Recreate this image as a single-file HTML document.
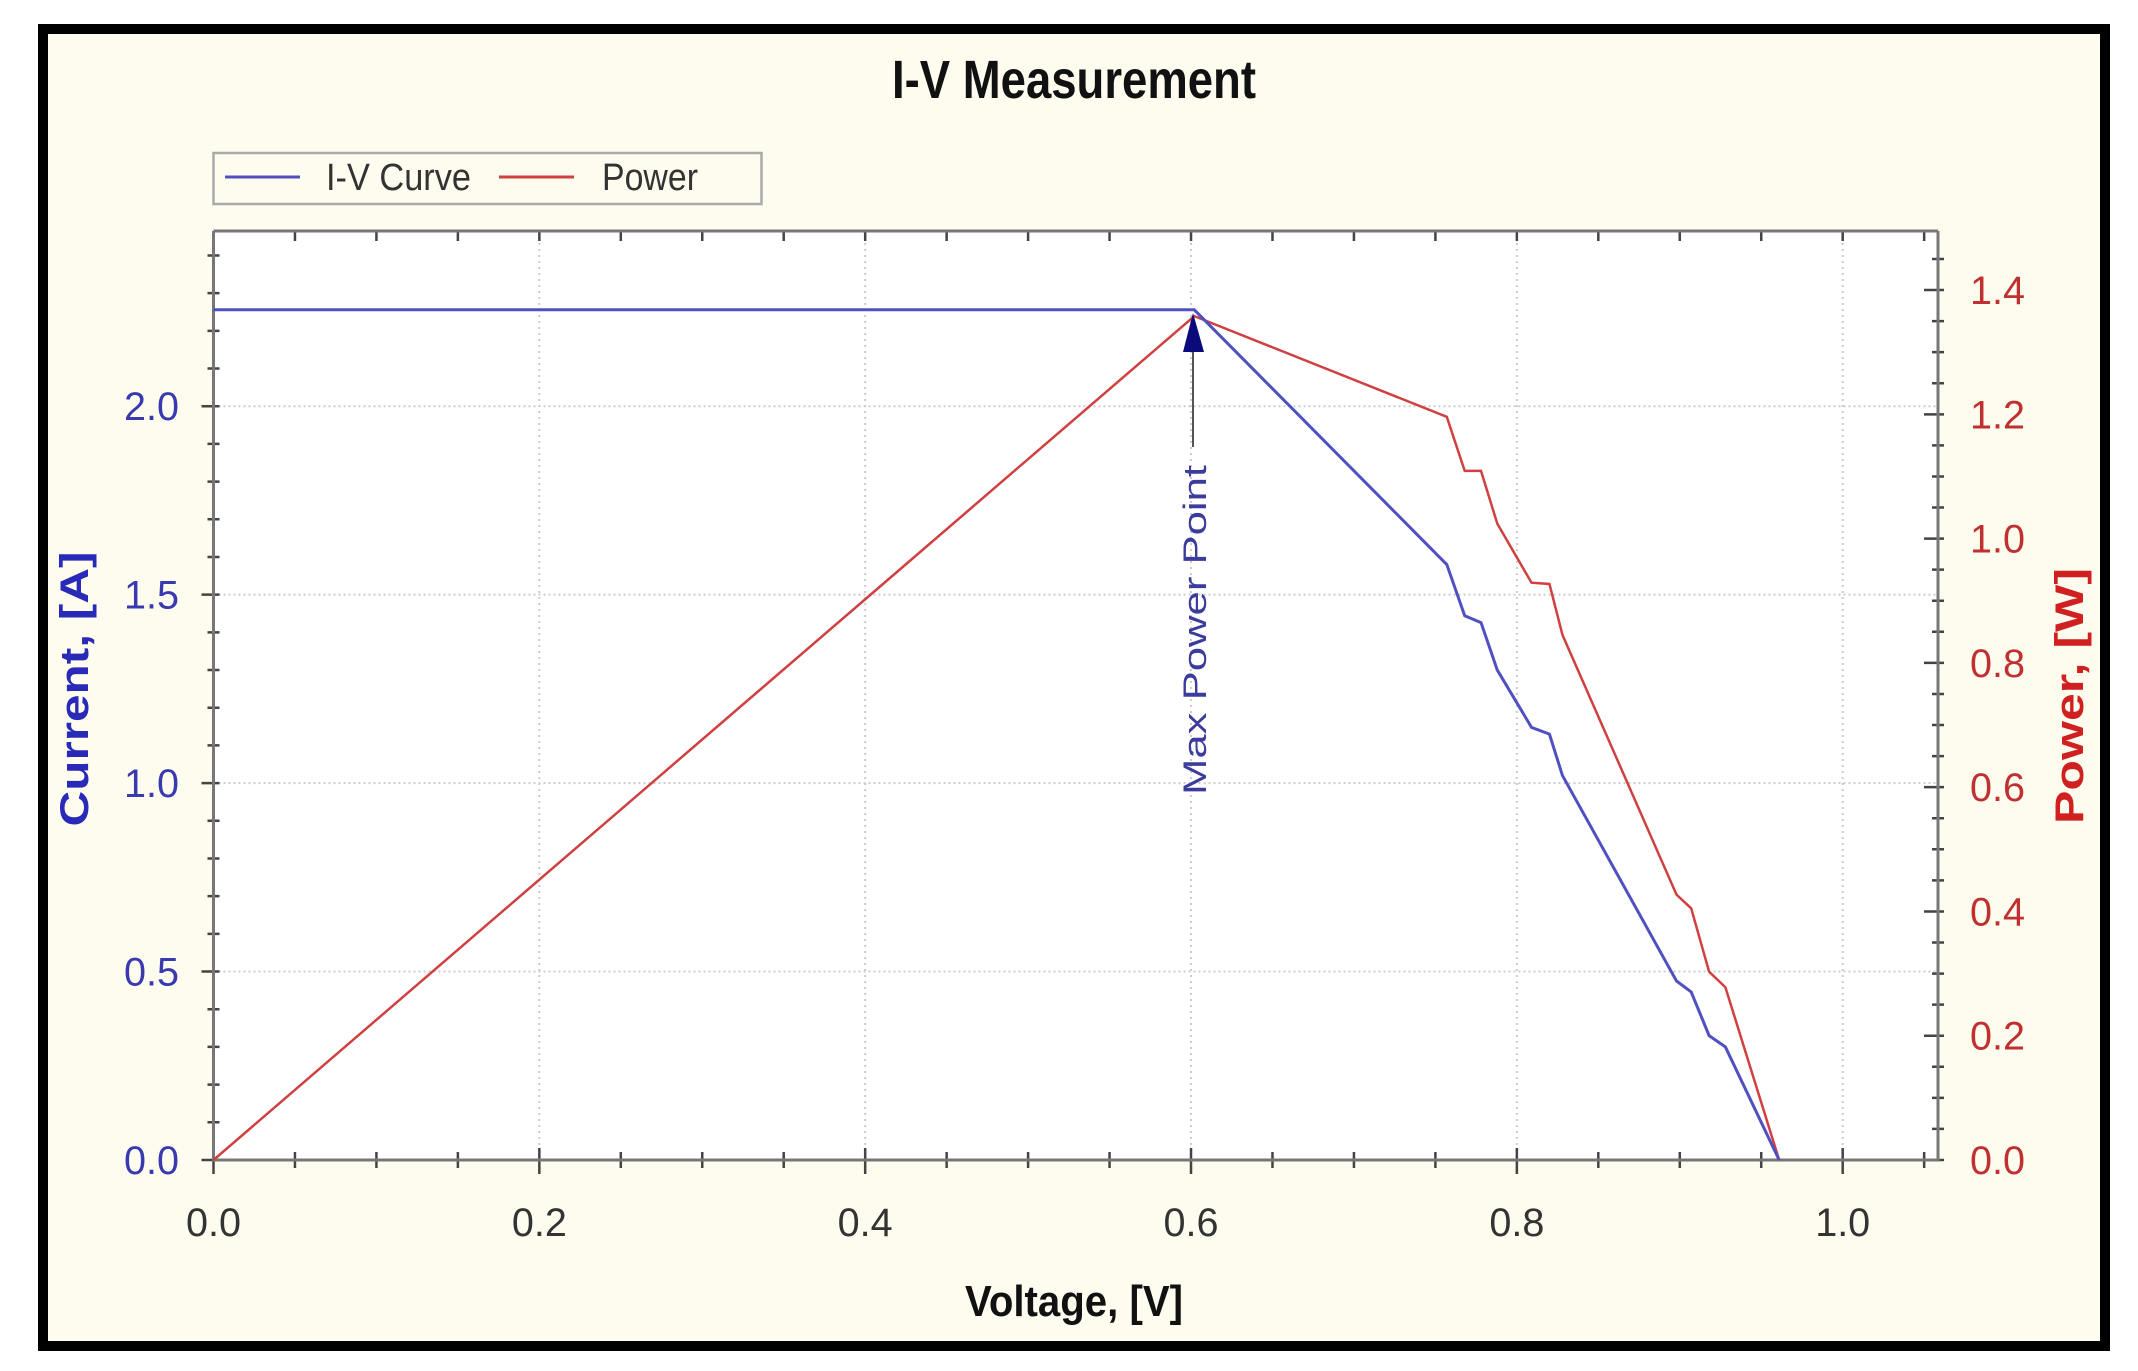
<!DOCTYPE html>
<html><head><meta charset="utf-8"><style>
html,body{margin:0;padding:0;background:#fff}
svg{display:block}
text{font-family:"Liberation Sans",sans-serif}
</style></head><body>
<svg id="chart" width="2138" height="1371" viewBox="0 0 2138 1371" xmlns="http://www.w3.org/2000/svg">
<rect x="43" y="29" width="2062" height="1317" fill="#fdfcef" stroke="#000" stroke-width="10"/>
<rect x="213.5" y="231" width="1724.5" height="929" fill="#fff"/>
<text x="1074" y="98" text-anchor="middle" font-size="54" font-weight="bold" fill="#111" textLength="364" lengthAdjust="spacingAndGlyphs">I-V Measurement</text>
<g>
<rect x="213.5" y="153" width="548" height="51" fill="#fdfcef" stroke="#aaa" stroke-width="2.5"/>
<line x1="225" y1="177" x2="300" y2="177" stroke="#5050c0" stroke-width="3"/>
<text x="326" y="190" font-size="38" fill="#333" textLength="145" lengthAdjust="spacingAndGlyphs">I-V Curve</text>
<line x1="499" y1="177" x2="574" y2="177" stroke="#d04040" stroke-width="3"/>
<text x="602" y="190" font-size="38" fill="#333" textLength="96" lengthAdjust="spacingAndGlyphs">Power</text>
</g>
<g id="grid"></g>
<g id="axes"></g>
<g id="series"></g>
<g>
<line x1="1193" y1="447" x2="1193" y2="345" stroke="#555" stroke-width="2"/>
<polygon points="1193,313 1183,352 1204,352" fill="#0a0a7a"/>
<text transform="translate(1206,630) rotate(-90)" text-anchor="middle" font-size="32" fill="#3c3c9c" textLength="330" lengthAdjust="spacingAndGlyphs">Max Power Point</text>
</g>
<text transform="translate(88,689) rotate(-90)" text-anchor="middle" font-size="40" font-weight="bold" fill="#2a2ab8" textLength="275" lengthAdjust="spacingAndGlyphs">Current, [A]</text>
<text transform="translate(2083,696) rotate(-90)" text-anchor="middle" font-size="40" font-weight="bold" fill="#d02020" textLength="256" lengthAdjust="spacingAndGlyphs">Power, [W]</text>
<text x="1074" y="1316" text-anchor="middle" font-size="44" font-weight="bold" fill="#111" textLength="218" lengthAdjust="spacingAndGlyphs">Voltage, [V]</text>
</svg>
<script>
const voltage = [0, 0.602, 0.757, 0.768, 0.778, 0.788, 0.809, 0.820, 0.828, 0.898, 0.907, 0.918, 0.928, 0.961];
const current = [2.256, 2.256, 1.58, 1.444, 1.426, 1.30, 1.148, 1.13, 1.02, 0.475, 0.446, 0.33, 0.30, 0];
const power = [0, 1.358, 1.196, 1.109, 1.109, 1.024, 0.929, 0.927, 0.845, 0.427, 0.405, 0.303, 0.278, 0];
const xTicks = ["0.0","0.2","0.4","0.6","0.8","1.0"];
const yTicks = ["0.0","0.5","1.0","1.5","2.0"];
const y2Ticks = ["0.0","0.2","0.4","0.6","0.8","1.0","1.2","1.4"];

const L=213.5,R=1938,T=231,B=1160;
const xMax=1.0585,yMax=2.465,y2Max=1.495;
const sx=v=>L+v/xMax*(R-L);
const sy=v=>B-v/yMax*(B-T);
const sy2=v=>B-v/y2Max*(B-T);
const NS="http://www.w3.org/2000/svg";
function mk(tag,attrs,parent){const e=document.createElementNS(NS,tag);for(const k in attrs)e.setAttribute(k,attrs[k]);parent.appendChild(e);return e;}
const grid=document.getElementById('grid'),axes=document.getElementById('axes'),series=document.getElementById('series');

xTicks.forEach(t=>{const v=parseFloat(t);const x=sx(v);
 if(v>0){const g=mk('line',{x1:x,y1:T,x2:x,y2:B,stroke:'#ccc','stroke-width':2,'stroke-dasharray':'2 4'},grid);
 
 }
 const tx=mk('text',{x:x,y:1236,'text-anchor':'middle','font-size':40,fill:'#333',textLength:55,lengthAdjust:'spacingAndGlyphs'},axes);tx.textContent=t;
 
 
});
yTicks.forEach(t=>{const v=parseFloat(t);const y=sy(v);
 if(v>0){const g=mk('line',{x1:L,y1:y,x2:R,y2:y,stroke:'#ccc','stroke-width':2,'stroke-dasharray':'2 3'},grid);
 
 }
 const tx=mk('text',{x:179,y:y+14,'text-anchor':'end','font-size':40,fill:'#3a3ab0',textLength:55,lengthAdjust:'spacingAndGlyphs'},axes);tx.textContent=t;
 
 
});
y2Ticks.forEach(t=>{const v=parseFloat(t);const y=sy2(v);
 const tx=mk('text',{x:1970,y:y+14,'font-size':40,fill:'#c03030',textLength:55,lengthAdjust:'spacingAndGlyphs'},axes);tx.textContent=t;
 
 
});
// minor ticks
let ticks='';
for(let v=0;v<=xMax+1e-9;v+=0.05){const x=sx(v);const maj=Math.abs(v*5-Math.round(v*5))<1e-6;ticks+=`M${x},${B-(maj?12:8)}L${x},${B+(maj?14:8)}M${x},${T}L${x},${T+10}`;}
for(let v=0;v<=yMax;v+=0.1){const y=sy(v);const maj=Math.abs(v*2-Math.round(v*2))<1e-6;ticks+=`M${L-(maj?12:6)},${y}L${L+6},${y}`;}
for(let v=0;v<=y2Max;v+=0.05){const y=sy2(v);const maj=Math.abs(v*5-Math.round(v*5))<1e-6;ticks+=`M${R-(maj?14:6)},${y}L${R+6},${y}`;}
const tk=mk('path',{d:ticks,stroke:'#444','stroke-width':2.5,fill:'none'},axes);


const ax=mk('path',{d:`M${L},${T}L${L},${B}L${R},${B}L${R},${T}M${L},${T}L${R},${T}`,stroke:'#777','stroke-width':3,fill:'none'},axes);



const pw=mk('polyline',{points:voltage.map((v,i)=>sx(v)+','+sy2(power[i])).join(' '),fill:'none',stroke:'#d04040','stroke-width':2.5},series);


const iv=mk('polyline',{points:voltage.map((v,i)=>sx(v)+','+sy(current[i])).join(' '),fill:'none',stroke:'#5050c0','stroke-width':3},series);


</script>
</body></html>
